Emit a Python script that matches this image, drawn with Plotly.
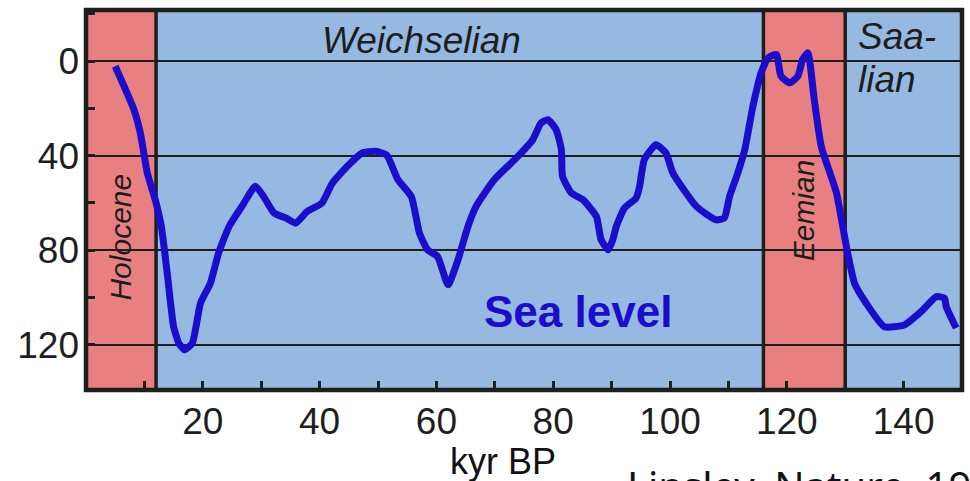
import plotly.graph_objects as go

# Sea level relative to present (m below present) over the last glacial cycle
age_kyr = [5.0, 8.2, 9.3, 10.5, 12.0, 12.9, 13.9, 15.0, 15.9, 16.9, 18.2, 19.6,
           21.3, 22.7, 24.5, 26.7, 29.0, 30.4, 32.2, 34.2, 35.9, 37.9, 40.4, 42.2,
           45.0, 47.3, 49.6, 51.5, 53.4, 55.7, 57.1, 58.5, 60.2, 62.0, 63.7, 65.4,
           66.8, 69.9, 73.7, 76.5, 77.9, 79.1, 80.5, 81.4, 81.6, 83.1, 85.1, 87.4,
           88.2, 89.4, 90.2, 90.8, 92.2, 94.2, 94.8, 95.6, 97.6, 99.3, 100.5, 104.5,
           107.9, 109.3, 110.2, 111.6, 112.8, 114.2, 115.6, 116.8, 118.2, 119.0, 120.5,
           121.9, 122.7, 123.6, 124.7, 125.9, 128.5, 130.2, 131.6, 133.6, 136.7, 140.1,
           143.3, 145.6, 147.0, 147.3, 149.0]
sea_level_m = [2.2, 20.5, 30.4, 47.4, 60.0, 70.0, 89.6, 112.4, 119.4, 122.2, 119.4, 102.5,
               94.0, 81.3, 70.0, 61.5, 53.0, 57.3, 64.3, 66.4, 68.6, 63.6, 60.1, 51.6,
               43.9, 38.9, 38.2, 39.8, 50.2, 57.3, 72.8, 79.9, 82.7, 94.7, 84.1, 70.0,
               61.5, 50.2, 41.0, 33.3, 26.2, 24.8, 29.0, 37.5, 48.8, 55.8, 58.7, 65.8,
               75.6, 79.9, 75.6, 70.0, 62.2, 58.0, 53.0, 41.7, 35.4, 38.9, 47.4, 61.5,
               67.2, 66.4, 57.3, 47.4, 37.5, 19.1, 5.0, -1.4, -2.8, 6.4, 9.2,
               6.4, -0.6, -3.5, 16.3, 36.1, 55.8, 78.5, 94.0, 102.5, 112.4, 111.7,
               105.3, 99.7, 100.3, 103.9, 113.0]

# Climate stages: start / end in kyr BP, warm (interglacial) or cold
stage_start = [0, 12, 116, 130]
stage_end = [12, 116, 130, 150]
stage_warm = [True, False, True, False]

x_tick_vals = [20, 40, 60, 80, 100, 120, 140]
x_tick_text = ["20", "40", "60", "80", "100", "120", "140"]
y_tick_vals = [0, 40, 80, 120]
y_tick_text = ["0", "40", "80", "120"]

WARM = "#E88081"
COLD = "#95B9E1"
CURVE = "#1C0CCB"
INK = "#1E1E1E"
ARIAL = "Liberation Sans, Arial, sans-serif"
TICK_FONT = dict(family=ARIAL, size=37, color=INK)

W, H = 970, 481
ML, MR, MT, MB = 86, 8, 10, 91
pw, ph = W - ML - MR, H - MT - MB


def px_x(px):
    """Horizontal pixel position -> paper fraction."""
    return (px - ML) / pw


def px_y(py):
    """Vertical pixel position (from the top) -> paper fraction."""
    return (H - py - MB) / ph


fig = go.Figure()
fig.add_trace(go.Scatter(
    x=age_kyr, y=sea_level_m, mode="lines",
    line=dict(color=CURVE, width=7, shape="spline", smoothing=0.5),
    hoverinfo="skip", showlegend=False,
))

shapes = []
for s, e, warm in zip(stage_start, stage_end, stage_warm):
    shapes.append(dict(type="rect", xref="x", yref="paper", x0=s, x1=e, y0=0, y1=1,
                       fillcolor=WARM if warm else COLD, line=dict(width=0), layer="below"))
for b in stage_start[1:]:
    shapes.append(dict(type="line", xref="x", yref="paper", x0=b, x1=b, y0=0, y1=1,
                       line=dict(color=INK, width=3.5), layer="between"))
shapes.append(dict(type="rect", xref="paper", yref="paper", x0=0, x1=1, y0=0, y1=1,
                   line=dict(color=INK, width=4.5), fillcolor="rgba(0,0,0,0)", layer="above"))

annotations = [
    dict(text="<i>Weichselian</i>", x=57.4, y=-8.5, xref="x", yref="y",
         font=dict(family=ARIAL, size=37, color=INK), showarrow=False),
    dict(text="<i>Saa-</i>", x=131.9, y=-10.5, xref="x", yref="y", xanchor="left",
         font=dict(family=ARIAL, size=37, color=INK), showarrow=False),
    dict(text="<i>lian</i>", x=131.9, y=8.0, xref="x", yref="y", xanchor="left",
         font=dict(family=ARIAL, size=37, color=INK), showarrow=False),
    dict(text="<i>Holocene</i>", x=5.9, y=74.5, xref="x", yref="y", textangle=-90,
         font=dict(family=ARIAL, size=30, color=INK), showarrow=False),
    dict(text="<i>Eemian</i>", x=123.0, y=63.0, xref="x", yref="y", textangle=-90,
         font=dict(family=ARIAL, size=30, color=INK), showarrow=False),
    dict(text="<b>Sea level</b>", x=84.2, y=106.0, xref="x", yref="y",
         font=dict(family=ARIAL, size=44, color=CURVE), showarrow=False),
    dict(text="kyr BP", x=px_x(503), y=px_y(462), xref="paper", yref="paper",
         xanchor="center", yanchor="middle",
         font=dict(family=ARIAL, size=36, color="#111111"), showarrow=False),
    dict(text="Linsley, Nature, 1995", x=px_x(625), y=px_y(456), xref="paper", yref="paper",
         xanchor="left", yanchor="top",
         font=dict(family="Noto Sans, sans-serif", size=40, color="#111111"), showarrow=False),
]

fig.update_layout(
    width=W, height=H,
    margin=dict(l=ML, r=MR, t=MT, b=MB),
    paper_bgcolor="white", plot_bgcolor=COLD,
    shapes=shapes, annotations=annotations,
    xaxis=dict(range=[0, 150], showgrid=False, zeroline=False,
               tickvals=x_tick_vals, ticktext=x_tick_text,
               ticks="inside", ticklen=9, tickwidth=2.5, tickcolor=INK,
               minor=dict(tick0=0, dtick=10, ticks="inside", ticklen=9, tickwidth=2.5,
                          tickcolor=INK, showgrid=False),
               tickfont=TICK_FONT, ticklabelstandoff=6, showline=False),
    yaxis=dict(range=[139.2, -21.6], showgrid=True, gridcolor=INK, gridwidth=1.6,
               zeroline=False, tickvals=y_tick_vals, ticktext=y_tick_text,
               ticks="inside", ticklen=9, tickwidth=2.5, tickcolor=INK,
               minor=dict(tick0=0, dtick=20, ticks="inside", ticklen=9, tickwidth=2.5,
                          tickcolor=INK, showgrid=False),
               tickfont=TICK_FONT, ticklabelstandoff=6, showline=False),
)

fig.write_html("out.html")
